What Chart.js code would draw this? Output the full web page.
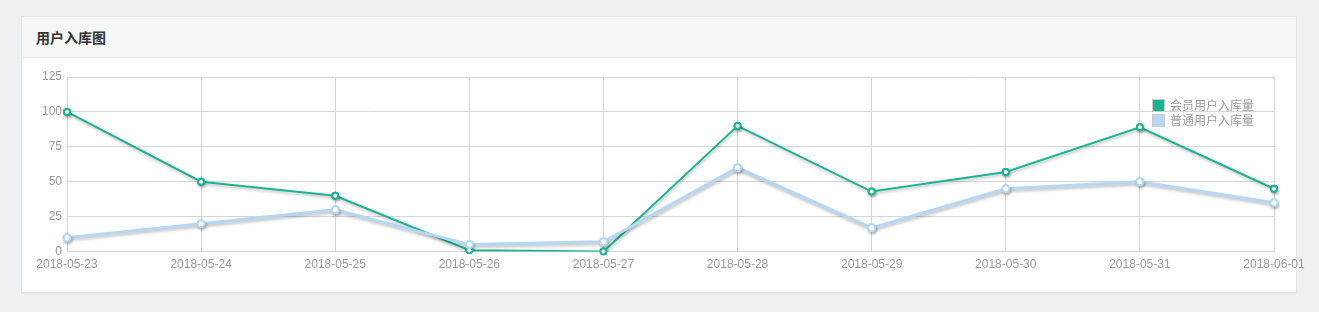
<!DOCTYPE html>
<html>
<head>
<meta charset="utf-8">
<script src="https://cdn.jsdelivr.net/npm/chart.js@4/dist/chart.umd.min.js"></script>
<style>
  html, body { margin: 0; padding: 0; background: #edf1f2; width: 1319px; height: 312px; overflow: hidden; }
  .panel { position: absolute; left: 21px; top: 16px; width: 1276px; height: 277px; background: #fff;
    border: 1px solid #e3e6e8; box-sizing: border-box; box-shadow: 0 1px 1px rgba(0,0,0,0.04); }
  .panel-head { height: 41px; background: #f5f6f6; border-bottom: 1px solid #e7eaec; box-sizing: border-box;
    font: bold 14px "Noto Sans CJK SC", sans-serif; color: #333; line-height: 41px; padding-left: 14px; }
  #chartBox { position: absolute; left: 0; top: 0; width: 1319px; height: 312px; }
  .legend { position: absolute; left: 1152px; top: 97px; font: 12px "Noto Sans CJK SC", sans-serif; color: #999; }
  .legend div { height: 15px; line-height: 15px; white-space: nowrap; }
  .legend span { display: inline-block; width: 11px; height: 11px; border: 1px solid #ccc; vertical-align: -2px; margin-right: 5px; }
</style>
</head>
<body>
<div class="panel"><div class="panel-head">用户入库图</div></div>
<div id="chartBox"><canvas id="graphCanvas"></canvas></div>
<div class="legend" id="legend"></div>
<script>
var dates = ["2018-05-23", "2018-05-24", "2018-05-25", "2018-05-26", "2018-05-27",
  "2018-05-28", "2018-05-29", "2018-05-30", "2018-05-31", "2018-06-01"];
var memberCount = [100, 50, 40, 1, 0, 90, 43, 57, 89, 45];
var normalCount = [10, 20, 30, 5, 7, 60, 17, 45, 50, 35];
var seriesNames = ["会员用户入库量", "普通用户入库量"];
var seriesColors = ["#1ab394", "#b3d7f5"];

// shadow under the lines, points redrawn clean on top
var lineShadow = {
  id: "lineShadow",
  beforeDatasetsDraw: function (chart) {
    var ctx = chart.ctx;
    ctx.save();
    ctx.shadowColor = "rgba(0,0,0,0.25)";
    ctx.shadowBlur = 3;
    ctx.shadowOffsetX = 1;
    ctx.shadowOffsetY = 2;
  },
  afterDatasetsDraw: function (chart) {
    var ctx = chart.ctx;
    ctx.restore();
    for (var d = chart.data.datasets.length - 1; d >= 0; d--) {
      var meta = chart.getDatasetMeta(d);
      meta.data.forEach(function (pt) { pt.draw(ctx, chart.chartArea); });
    }
  }
};

var legendHtml = "";
for (var i in seriesNames) {
  legendHtml += '<div><span style="background:' + seriesColors[i] + '"></span>' + seriesNames[i] + "</div>";
}
document.getElementById("legend").innerHTML = legendHtml;

var chartData = {
  labels: dates,
  datasets: [
    {
      label: seriesNames[1],
      data: normalCount,
      borderColor: seriesColors[1],
      backgroundColor: "#fff",
      borderWidth: 3,
      pointRadius: 3.5,
      pointBorderWidth: 2,
      pointBackgroundColor: "#fff",
      pointBorderColor: seriesColors[1],
      tension: 0
    },
    {
      label: seriesNames[0],
      data: memberCount,
      borderColor: seriesColors[0],
      backgroundColor: "#fff",
      borderWidth: 2,
      pointRadius: 3,
      pointBorderWidth: 2,
      pointBackgroundColor: "#fff",
      pointBorderColor: seriesColors[0],
      tension: 0
    }
  ]
};

var tickFont = { family: "Liberation Sans, Arial, sans-serif", size: 12 };

new Chart(document.getElementById("graphCanvas"), {
  type: "line",
  data: chartData,
  plugins: [lineShadow],
  options: {
    responsive: true,
    maintainAspectRatio: false,
    animation: false,
    layout: { padding: { left: 27, right: 45, top: 77, bottom: 34 } },
    plugins: { legend: { display: false }, tooltip: { enabled: false } },
    scales: {
      x: {
        grid: { color: "#d6d6d6", drawTicks: false },
        border: { color: "#d6d6d6" },
        ticks: { color: "#999", font: tickFont, padding: 6, maxRotation: 0, autoSkip: false }
      },
      y: {
        min: 0,
        max: 125,
        afterFit: function (s) { s.width = 40; },
        grid: { color: "#d6d6d6", drawTicks: false },
        border: { color: "#d6d6d6" },
        ticks: { stepSize: 25, color: "#999", font: tickFont, padding: 5 }
      }
    }
  }
});
</script>
</body>
</html>
